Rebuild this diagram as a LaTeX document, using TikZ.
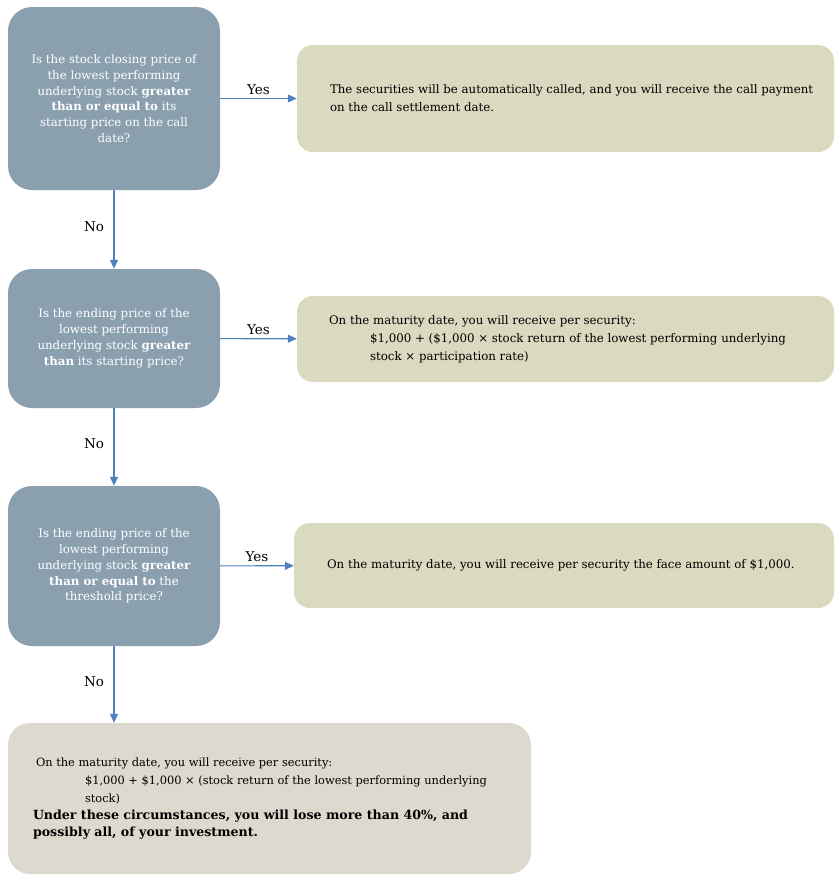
\documentclass[tikz,border=0pt]{standalone}
\usepackage{fontspec}
\setmainfont{DejaVu Serif}
\usepackage{tikz}
\usetikzlibrary{arrows.meta}
\definecolor{qblue}{HTML}{8AA0AF}
\definecolor{akhaki}{HTML}{DADAC0}
\definecolor{lgrey}{HTML}{DDD9CE}
\definecolor{lblue}{HTML}{4F81BD}
\begin{document}
\begin{tikzpicture}[x=1pt, y=-1pt,
  qbox/.style={rectangle, fill=qblue, rounded corners=24pt, minimum width=212pt,
               text=white, align=center, font=\fontsize{11.8}{15.8}\selectfont},
  abox/.style={rectangle, fill=akhaki, rounded corners=16pt},
  fbox/.style={rectangle, fill=lgrey, rounded corners=22pt},
  atext/.style={anchor=west, align=left, inner sep=0pt, font=\fontsize{11.8}{18}\selectfont},
  link/.style={draw=lblue, line width=1.2pt, -{Triangle[length=9pt,width=8pt]}},
  lab/.style={font=\fontsize{13.5}{16}\selectfont},
  nolab/.style={lab, left, xshift=-6pt, yshift=3pt}]

\useasboundingbox (0,0) rectangle (840,884);

\node[qbox, minimum height=183pt] (q1) at (114,98.5)
  {Is the stock closing price of\\ the lowest performing\\ underlying stock \textbf{greater}\\
   \textbf{than or equal to} its\\ starting price on the call\\ date?};
\node[qbox, minimum height=139pt] (q2) at (114,338.5)
  {Is the ending price of the\\ lowest performing\\ underlying stock \textbf{greater}\\
   \textbf{than} its starting price?};
\node[qbox, minimum height=160pt] (q3) at (114,566)
  {Is the ending price of the\\ lowest performing\\ underlying stock \textbf{greater}\\
   \textbf{than or equal to} the\\ threshold price?};

\node[abox, minimum width=537pt, minimum height=107pt] (r1) at (565.5,98.5) {};
\node[atext] (r1t) at ([xshift=33pt]r1.west)
  {The securities will be automatically called, and you will receive the call payment\\
   on the call settlement date.};

\node[abox, minimum width=537pt, minimum height=86pt] (r2) at (565.5,339) {};
\node[atext] (r2t) at ([xshift=32pt]r2.west)
  {On the maturity date, you will receive per security:\\
   \hspace*{41pt}\$1,000 + (\$1,000 × stock return of the lowest performing underlying\\
   \hspace*{41pt}stock × participation rate)};

\node[abox, minimum width=540pt, minimum height=85pt] (r3) at (564,565.5) {};
\node[atext] (r3t) at ([xshift=33pt]r3.west)
  {On the maturity date, you will receive per security the face amount of \$1,000.};

\node[fbox, minimum width=523pt, minimum height=151pt] (r4) at (269.5,798.5) {};
\node[atext, font=\fontsize{11.4}{18}\selectfont] (r4t) at ([xshift=25pt]r4.west)
  {\hspace*{3pt}On the maturity date, you will receive per security:\\
   \hspace*{52pt}\$1,000 + \$1,000 × (stock return of the lowest performing underlying\\
   \hspace*{52pt}stock)\\[-1pt]
   {\fontsize{12.6}{18}\selectfont\bfseries Under these circumstances, you will lose more than 40\%, and}\\[-1pt]
   {\fontsize{12.6}{18}\selectfont\bfseries possibly all, of your investment.}};

\draw[link] (q1) -- node[lab, above] {Yes} (r1);
\draw[link] (q2) -- node[lab, above] {Yes} (r2);
\draw[link] (q3) -- node[lab, above] {Yes} (r3);

\draw[link] (q1) -- node[nolab] {No} (q2);
\draw[link] (q2) -- node[nolab] {No} (q3);
\draw[link] (q3) -- node[nolab] {No} (r4.north -| q3.south);

\end{tikzpicture}
\end{document}
